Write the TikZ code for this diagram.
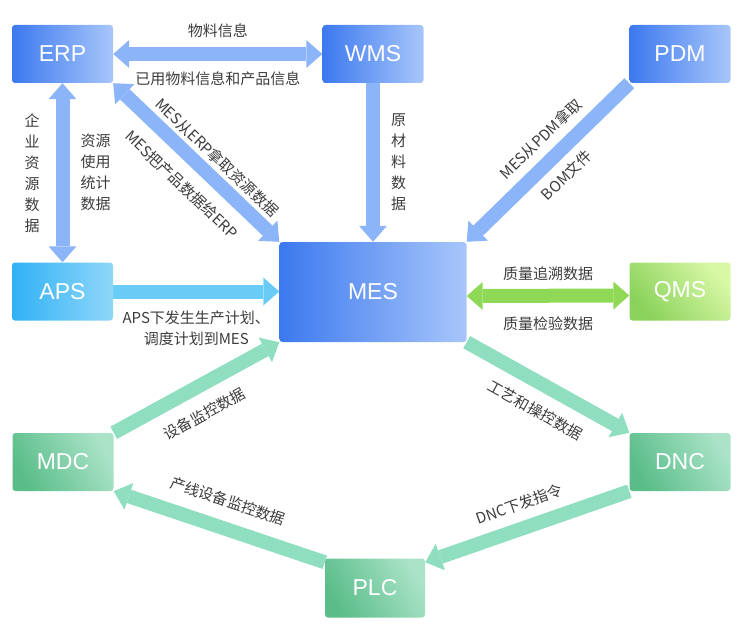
\documentclass[tikz,border=0pt]{standalone}
\usepackage{fontspec}
\setmainfont{Noto Sans CJK SC}
\newfontfamily\boxfont{Liberation Sans}
\usepackage{tikz}
\usepackage{xcolor}
\usetikzlibrary{arrows.meta, positioning, backgrounds}

\definecolor{boxblue}{HTML}{3C79EF}
\definecolor{boxbluelt}{HTML}{A8C6FA}
\definecolor{boxcyan}{HTML}{30B1F5}
\definecolor{boxcyanlt}{HTML}{90D7F9}
\definecolor{boxlime}{HTML}{8AD25A}
\definecolor{boxlimelt}{HTML}{D8F8A6}
\definecolor{boxteal}{HTML}{5ABD89}
\definecolor{boxteallt}{HTML}{AAE3C8}
\definecolor{arrblue}{HTML}{8CB4F8}
\definecolor{arrcyan}{HTML}{68CCF7}
\definecolor{arrlime}{HTML}{8FD957}
\definecolor{arrmint}{HTML}{8FDEBF}
\definecolor{labelgray}{HTML}{3C3C3C}

\tikzset{
  sysbox/.style={rounded corners=3pt, minimum width=101pt, minimum height=58pt,
    inner sep=0pt, text=white, font=\boxfont\fontsize{23}{23}\selectfont},
  bluebox/.style={sysbox, left color=boxblue, right color=boxbluelt},
  cyanbox/.style={sysbox, left color=boxcyan, right color=boxcyanlt},
  limebox/.style={sysbox, top color=boxlimelt, bottom color=boxlime, shading angle=-50},
  tealbox/.style={sysbox, top color=boxteallt, bottom color=boxteal, shading angle=-60},
  flowtip/.tip={Triangle[length=16pt, width=28pt, line width=0pt]},
  flow/.style={line width=14pt, -flowtip},
  flowback/.style={line width=14pt, flowtip-},
  flowboth/.style={line width=14pt, flowtip-flowtip},
  lbl/.style={text=labelgray, font=\fontsize{15}{21}\selectfont, inner sep=0pt, outer sep=0pt},
}

\begin{document}
\begin{tikzpicture}[x=1pt, y=-1pt]
    \useasboundingbox (0,0) rectangle (743,631);

    % Systems
    \node[bluebox] (erp) at (62.5,54) {ERP};
    \node[bluebox] (wms) at (373,54) {WMS};
    \node[bluebox] (pdm) at (680,54) {PDM};
    \node[cyanbox] (aps) at (62.5,291.5) {APS};
    \node[bluebox, minimum width=187pt, minimum height=100pt] (mes) at (373,292) {MES};
    \node[limebox] (qms) at (680,291.5) {QMS};
    \node[tealbox] (mdc) at (63,462) {MDC};
    \node[tealbox] (dnc) at (680,462) {DNC};
    \node[tealbox, minimum width=100pt, minimum height=59pt] (plc) at (375,588) {PLC};

    \begin{pgfonlayer}{background}
    % Upper systems to MES
    \draw[flowboth, arrblue] (erp) -- (wms)
        node[lbl, midway, above, inner ysep=16pt] (lblmat) {物料信息}
        node[lbl, midway, below, inner ysep=18pt] (lblused) {已用物料信息和产品信息};
    \draw[flowboth, arrblue] (erp) -- (aps)
        node[lbl, midway, left=23pt, align=center] (lblres) {企\\业\\资\\源\\数\\据}
        node[lbl, midway, right=18pt, align=center] (lblstat) {资源\\使用\\统计\\数据};
    \draw[flow, arrblue] (wms.south) -- (wms.south |- mes.north)
        node[lbl, midway, right=18pt, align=center] (lblraw) {原\\材\\料\\数\\据};
    \draw[flowboth, arrblue] (erp.south east) -- (mes.north west)
        node[lbl, sloped, pos=0.55, above, inner ysep=11pt] (lblget) {MES从ERP拿取资源数据}
        node[lbl, sloped, pos=0.52, below, inner ysep=19pt] (lblgive) {MES把产品数据给ERP};
    \draw[flowback, arrblue] (mes.north east) -- (pdm.south west)
        node[lbl, sloped, pos=0.55, above, inner ysep=15pt] (lblpdm) {MES从PDM拿取}
        node[lbl, sloped, pos=0.52, below, inner ysep=15pt] (lblbom) {BOM文件};
    \draw[flow, arrcyan] (aps.east) -- (aps.east -| mes.west)
        node[lbl, midway, below, inner ysep=19pt, align=center] (lblplan) {APS下发生生产计划、\\调度计划到MES};
    \draw[flowboth, arrlime] ([yshift=-4pt]mes.east) -- ([yshift=-4pt]qms.west)
        node[lbl, midway, above, inner ysep=15.5pt] (lbltrace) {质量追溯数据}
        node[lbl, midway, below, inner ysep=21pt] (lblcheck) {质量检验数据};

    % Shop floor loop
    \draw[flow, arrmint] (mdc.north east) -- (mes.south west)
        node[lbl, sloped, pos=0.47, below, inner ysep=20pt] (lblmon) {设备监控数据};
    \draw[flow, arrmint] (mes.south east) -- (dnc.north west)
        node[lbl, sloped, midway, below, inner ysep=19pt] (lblproc) {工艺和操控数据};
    \draw[flowback, arrmint] (mdc.south east) -- ([yshift=-4pt]plc.north west)
        node[lbl, sloped, midway, above, inner ysep=20pt] (lblline) {产线设备监控数据};
    \draw[flowback, arrmint] ([yshift=-4pt]plc.north east) -- (dnc.south west)
        node[lbl, sloped, midway, above, inner ysep=17pt] (lblcmd) {DNC下发指令};
    \end{pgfonlayer}
\end{tikzpicture}
\end{document}
